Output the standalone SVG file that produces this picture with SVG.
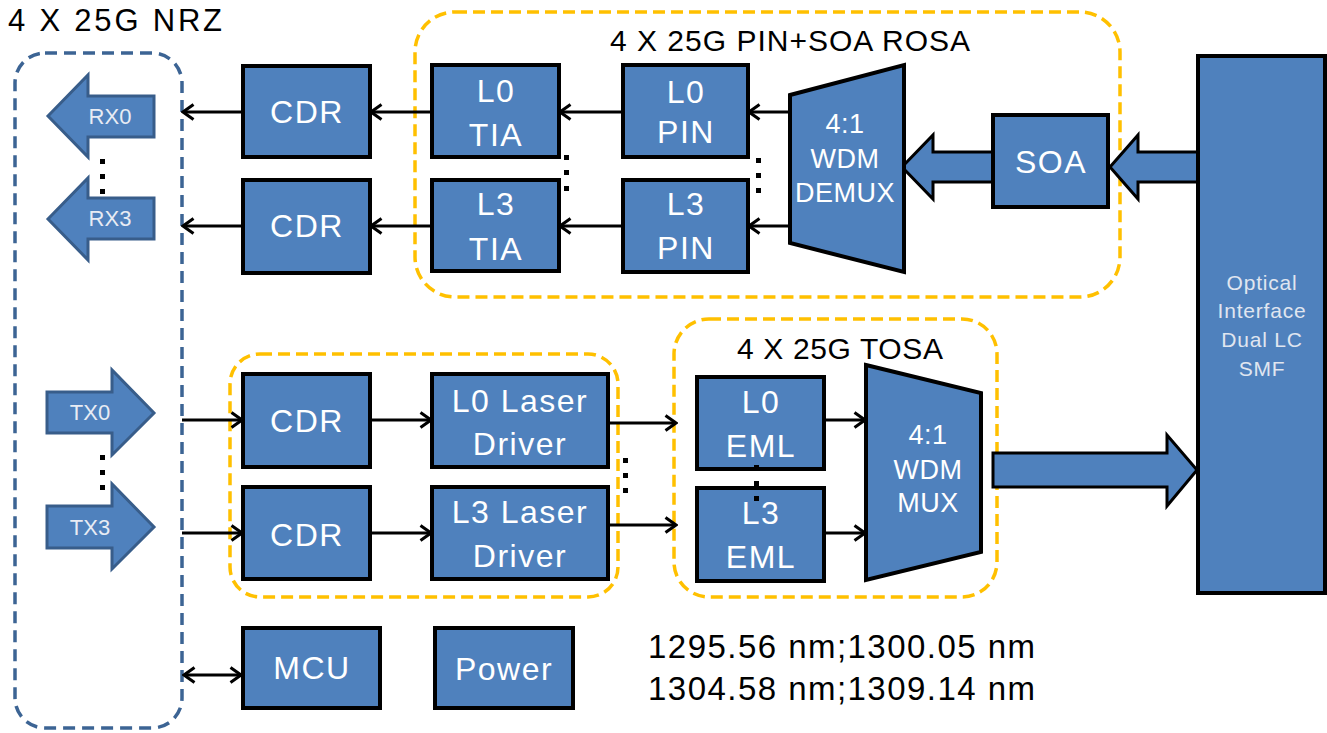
<svg xmlns="http://www.w3.org/2000/svg" width="1327" height="733" viewBox="0 0 1327 733">
<defs>
<style>
.blk{fill:#4f81bd;stroke:#000;stroke-width:4;stroke-linejoin:miter}
.bar{fill:#4f81bd;stroke:#000;stroke-width:3;stroke-linejoin:miter}
.sig{fill:#4f81bd;stroke:#385d8a;stroke-width:3}
.grp{fill:none;stroke:#ffc000;stroke-width:3.5;stroke-dasharray:12 6}
.host{fill:none;stroke:#3c6494;stroke-width:3.5;stroke-dasharray:12 7}
.lbl{font-family:"Liberation Sans",Arial,sans-serif;font-size:32px;fill:#fff;text-anchor:middle;letter-spacing:1.5px}
.mid{font-family:"Liberation Sans",Arial,sans-serif;font-size:27px;fill:#fff;text-anchor:middle;letter-spacing:0.5px}
.sm{font-family:"Liberation Sans",Arial,sans-serif;font-size:22px;fill:#e8ecf4;text-anchor:middle}
.opt{font-family:"Liberation Sans",Arial,sans-serif;font-size:21px;fill:#e0e6f0;text-anchor:middle;letter-spacing:0.8px}
.ttl{font-family:"Liberation Sans",Arial,sans-serif;font-size:31px;fill:#000}
.wl{font-family:"Liberation Sans",Arial,sans-serif;font-size:33px;fill:#000}
.ln{stroke:#000;stroke-width:3;fill:none;marker-end:url(#ah)}
.dot{fill:#000}
</style>
<marker id="ah" viewBox="0 0 14 18" refX="12" refY="9" markerWidth="14" markerHeight="18" markerUnits="userSpaceOnUse" orient="auto-start-reverse">
<path d="M1.5,1.5 L12,9 L1.5,16.5" fill="none" stroke="#000" stroke-width="3"/>
</marker>
</defs>
<rect width="1327" height="733" fill="#fff"/>

<g id="host">
<rect class="host" x="15" y="53" width="167" height="675" rx="30"/>
<text class="ttl" x="8" y="31" textLength="214" lengthAdjust="spacing">4 X 25G NRZ</text>
</g>
<g id="rosa">
<rect class="grp" x="415" y="12" width="705" height="285" rx="40"/>
<text class="ttl" x="610" y="51" textLength="360" lengthAdjust="spacing" style="font-size:30px">4 X 25G PIN+SOA  ROSA</text>
</g>
<g id="txdrv">
<rect class="grp" x="230" y="354" width="388" height="243" rx="30"/>
</g>
<g id="tosa">
<rect class="grp" x="674" y="319" width="323" height="278" rx="35"/>
<text class="ttl" x="737" y="359" textLength="206" lengthAdjust="spacing" style="font-size:30px">4 X 25G TOSA</text>
</g>

<g id="connectors">
<line class="ln" x1="243" y1="112" x2="183" y2="112"/>
<line class="ln" x1="432" y1="112" x2="371" y2="112"/>
<line class="ln" x1="623" y1="112" x2="560" y2="112"/>
<line class="ln" x1="790" y1="112" x2="749" y2="112"/>
<line class="ln" x1="243" y1="226" x2="183" y2="226"/>
<line class="ln" x1="432" y1="226" x2="371" y2="226"/>
<line class="ln" x1="623" y1="226" x2="560" y2="226"/>
<line class="ln" x1="790" y1="226" x2="749" y2="226"/>
<line class="ln" x1="182" y1="420" x2="242" y2="420"/>
<line class="ln" x1="182" y1="533" x2="242" y2="533"/>
<line class="ln" x1="370" y1="420" x2="431" y2="420"/>
<line class="ln" x1="370" y1="533" x2="431" y2="533"/>
<line class="ln" x1="608" y1="423" x2="676" y2="423"/>
<line class="ln" x1="608" y1="525" x2="676" y2="525"/>
<line class="ln" x1="824" y1="420" x2="865" y2="420"/>
<line class="ln" x1="824" y1="533" x2="865" y2="533"/>
<line class="ln" x1="184" y1="675" x2="241" y2="675" style="marker-start:url(#ah)"/>
<polygon class="bar" points="902,167 933,135 933,152 993,152 993,182 933,182 933,199"/>
<polygon class="bar" points="1110,167 1138,135 1138,152 1198,152 1198,182 1138,182 1138,199"/>
<polygon class="bar" points="993,453 1167,453 1167,435 1197,470 1167,506 1167,487 993,487"/>
</g>

<g id="rx0"><polygon class="sig" points="48,116 88,75 88,96 154,96 154,137 88,137 88,157"/><text class="sm" x="110" y="124">RX0</text></g>
<g id="rx3"><polygon class="sig" points="48,219 88,178 88,198 154,198 154,239 88,239 88,260"/><text class="sm" x="110" y="226">RX3</text></g>
<g id="tx0"><polygon class="sig" points="47,392 112,392 112,370 154,413 112,455 112,433 47,433"/><text class="sm" x="90" y="420">TX0</text></g>
<g id="tx3"><polygon class="sig" points="47,506 112,506 112,484 154,527 112,569 112,548 47,548"/><text class="sm" x="90" y="535">TX3</text></g>
<g id="hostdots"><rect class="dot" x="100" y="159" width="5" height="5"/><rect class="dot" x="100" y="174" width="5" height="5"/><rect class="dot" x="100" y="189" width="5" height="5"/><rect class="dot" x="100" y="455" width="5" height="5"/><rect class="dot" x="100" y="470" width="5" height="5"/><rect class="dot" x="100" y="485" width="5" height="5"/></g>

<g id="cdr-rx0"><rect class="blk" x="243" y="66" width="127" height="91"/><text class="lbl" x="307" y="123">CDR</text></g>
<g id="cdr-rx3"><rect class="blk" x="243" y="180" width="127" height="93"/><text class="lbl" x="307" y="237">CDR</text></g>
<g id="tia0"><rect class="blk" x="432" y="65" width="127" height="92"/><text class="lbl" x="496" y="102">L0</text><text class="lbl" x="496" y="146">TIA</text></g>
<g id="tia3"><rect class="blk" x="432" y="180" width="127" height="91"/><text class="lbl" x="496" y="215">L3</text><text class="lbl" x="496" y="260">TIA</text></g>
<g id="pin0"><rect class="blk" x="623" y="65" width="125" height="92"/><text class="lbl" x="686" y="103">L0</text><text class="lbl" x="686" y="143">PIN</text></g>
<g id="pin3"><rect class="blk" x="623" y="180" width="125" height="92"/><text class="lbl" x="686" y="215">L3</text><text class="lbl" x="686" y="259">PIN</text></g>
<g id="rxdots"><rect class="dot" x="564" y="155" width="5" height="5"/><rect class="dot" x="564" y="170" width="5" height="5"/><rect class="dot" x="564" y="186" width="5" height="5"/><rect class="dot" x="756" y="158" width="5" height="5"/><rect class="dot" x="756" y="173" width="5" height="5"/><rect class="dot" x="756" y="188" width="5" height="5"/></g>
<g id="demux"><polygon class="blk" points="790,95 904,65 904,272 790,243"/><text class="mid" x="845" y="133">4:1</text><text class="mid" x="845" y="168">WDM</text><text class="mid" x="845" y="202">DEMUX</text></g>
<g id="soa"><rect class="blk" x="993" y="115" width="115" height="92"/><text class="lbl" x="1051" y="173">SOA</text></g>
<g id="optical"><rect class="blk" x="1198" y="56" width="127" height="537"/><text class="opt" x="1262" y="290">Optical</text><text class="opt" x="1262" y="318">Interface</text><text class="opt" x="1262" y="347">Dual LC</text><text class="opt" x="1262" y="376">SMF</text></g>

<g id="cdr-tx0"><rect class="blk" x="243" y="374" width="127" height="93"/><text class="lbl" x="307" y="432">CDR</text></g>
<g id="cdr-tx3"><rect class="blk" x="243" y="487" width="127" height="92"/><text class="lbl" x="307" y="546">CDR</text></g>
<g id="ld0"><rect class="blk" x="432" y="374" width="176" height="93"/><text class="lbl" x="520" y="412">L0 Laser</text><text class="lbl" x="520" y="455">Driver</text></g>
<g id="ld3"><rect class="blk" x="432" y="487" width="176" height="92"/><text class="lbl" x="520" y="523">L3 Laser</text><text class="lbl" x="520" y="567">Driver</text></g>
<g id="eml0"><rect class="blk" x="697" y="377" width="127" height="92"/><text class="lbl" x="761" y="413">L0</text><text class="lbl" x="761" y="457">EML</text></g>
<g id="eml3"><rect class="blk" x="697" y="488" width="127" height="93"/><text class="lbl" x="761" y="524">L3</text><text class="lbl" x="761" y="568">EML</text></g>
<g id="txdots"><rect class="dot" x="623" y="458" width="5" height="5"/><rect class="dot" x="623" y="473" width="5" height="5"/><rect class="dot" x="623" y="488" width="5" height="5"/><rect class="dot" x="754" y="465" width="5" height="5"/><rect class="dot" x="754" y="481" width="5" height="5"/><rect class="dot" x="754" y="496" width="5" height="5"/></g>
<g id="mux"><polygon class="blk" points="866,365 981,393 981,552 866,580"/><text class="mid" x="928" y="444">4:1</text><text class="mid" x="928" y="479">WDM</text><text class="mid" x="928" y="512">MUX</text></g>

<g id="mcu"><rect class="blk" x="243" y="628" width="137" height="80"/><text class="lbl" x="312" y="679">MCU</text></g>
<g id="power"><rect class="blk" x="435" y="628" width="138" height="80"/><text class="lbl" x="504" y="680">Power</text></g>
<g id="wavelengths"><text class="wl" x="648" y="658" textLength="387" lengthAdjust="spacing">1295.56 nm;1300.05 nm</text><text class="wl" x="648" y="700" textLength="387" lengthAdjust="spacing">1304.58 nm;1309.14 nm</text></g>
</svg>
